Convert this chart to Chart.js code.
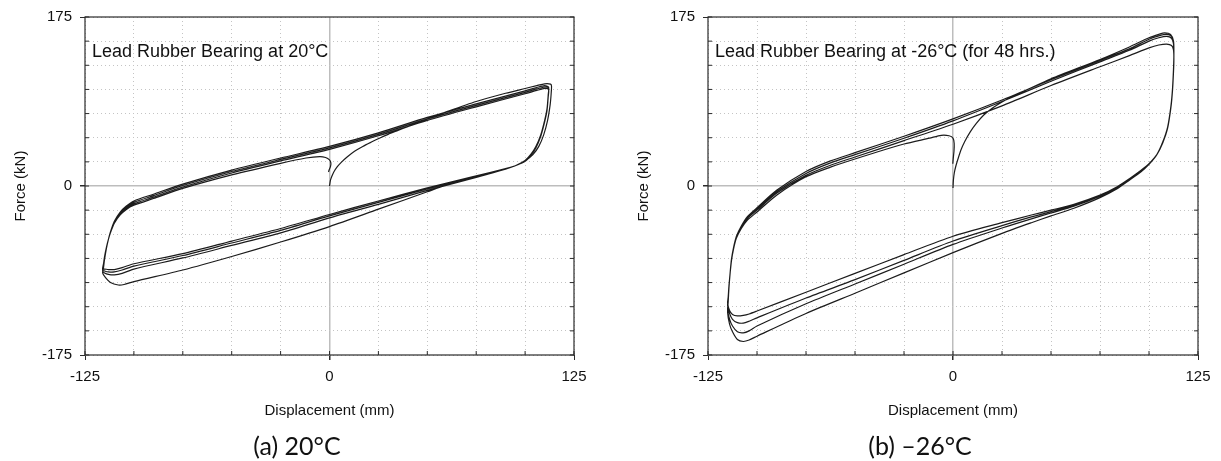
<!DOCTYPE html>
<html>
<head>
<meta charset="utf-8">
<script src="https://cdn.jsdelivr.net/npm/chart.js@4.4.1/dist/chart.umd.min.js"></script>
<style>
  html, body { margin: 0; padding: 0; background: #fff; }
  #wrap { position: relative; width: 1221px; height: 461px; }
  .box { position: absolute; top: 0; height: 461px; }
  #boxA { left: 0; width: 610px; }
  #boxB { left: 610px; width: 611px; }
</style>
</head>
<body>
<div id="wrap">
  <div class="box" id="boxA"><canvas id="chartA"></canvas></div>
  <div class="box" id="boxB"><canvas id="chartB"></canvas></div>
</div>
<script>
// tick labels shown on the axes
var xTickLabels = [-125, 0, 125];
var yTickLabels = [-175, 0, 175];

// ---- (a) 20°C : displacement (mm) / force (kN), read off the loops ----
// first loading from rest up to the first peak
var a_init_disp  = [0, 0.5, 1.2, 2.2, 4, 6, 9, 12.8, 17, 21.4, 25.5, 30, 35, 40, 45, 50, 60, 75, 90, 100, 106, 110, 113, 113.5];
var a_init_force = [0, 6, 10, 14.5, 20, 24.5, 30, 36, 41, 45.5, 49.5, 53.5, 57.5, 61.5, 65.5, 69.5, 77, 87.5, 96, 101, 104, 105.8, 105.5, 103.5];
// first unloading (lowest lower branch)
var a_lo1_disp  = [113.5, 113.3, 112.8, 111.5, 109.5, 107, 104, 100, 95, 90, 75, 60, 50, 25, 0, -25, -50, -75, -100, -105, -108, -112, -114.5, -116];
var a_lo1_force = [103.5, 95, 84, 68, 53, 41, 32.5, 26, 21, 18, 9.5, 1, -6, -24, -42, -58, -73, -87, -99, -102, -102.5, -100, -95, -90];
// later cycles, upper branches (moving right)
var a_up_disp = [-116, -115.5, -115, -114, -113, -112, -110, -107, -104, -100, -90, -75, -50, -25, 0, 25, 50, 75, 100, 106, 110, 112];
var a_up2 = [-90, -84, -76, -64, -55, -47.5, -36.5, -27, -21, -15.5, -8.5, 2, 16.5, 29, 41, 55, 71, 85, 98.5, 102, 104, 102.5];
var a_up3 = [-88, -82, -75, -64, -55, -48, -37, -28, -22, -17, -10, 0.5, 15, 27.5, 39.5, 53.5, 69.5, 83.5, 97, 100.5, 102.5, 101.5];
var a_up4 = [-87, -81, -74, -63.5, -55, -48.5, -38, -29.5, -23.5, -18.5, -11.5, -1, 13.5, 26, 38, 52, 68, 82, 95.5, 99, 101, 100];
// later cycles, lower branches (moving left)
var a_lo_disp = [112, 111.8, 111.2, 110, 108, 105.5, 103, 100, 95, 90, 75, 50, 25, 0, -25, -50, -75, -100, -106, -110, -113, -115, -116];
var a_lo2 = [102.5, 94, 80, 68, 53, 41, 33, 26.5, 21, 17.5, 9, -4.5, -19, -33, -48.5, -61.5, -74.5, -86, -90.5, -92, -91.5, -90, -88];
var a_lo3 = [101.5, 93, 79, 67, 52, 40, 32.5, 26, 21, 18, 10, -3, -17, -31, -46, -59, -72, -83, -87, -89, -89, -88, -87];
var a_lo4 = [100, 92, 78, 66.5, 51.5, 39.5, 32, 25.5, 21, 18, 10.5, -2, -15.5, -29.5, -44, -57, -70, -80.5, -84.5, -86.5, -86.5, -86, -86];
// last reload back to zero displacement
var a_end_disp  = [-116, -115.5, -115, -114, -113, -112, -110, -107, -104, -100, -90, -75, -50, -25, -12, -5, -2, 0, 0.7, 0.5, -0.2, -0.5];
var a_end_force = [-86, -80, -73, -63, -55, -48.5, -38.5, -30, -24.5, -20, -13, -2.5, 11.5, 23.5, 29, 30.5, 29.5, 27, 24, 20, 16.5, 14.5];

// ---- (b) -26°C ----
var b_init_disp  = [0, 0.2, 0.7, 1.5, 2.7, 4, 6, 8.8, 12, 15.7, 20, 25, 30, 36, 50, 75, 90, 100, 105, 108, 111, 112.5];
var b_init_force = [-2, 6, 14, 21, 29, 37, 46, 56, 65, 73.5, 80.5, 87, 92.5, 98, 111, 131, 144, 153.5, 157, 158.5, 157, 150];
var b_lo_disp = [112.5, 112.7, 112.5, 112, 111.2, 109.5, 107, 104, 100, 95.8, 90, 84, 75, 61.7, 50, 40, 25, 0, -25, -50, -75, -100, -104, -107, -110, -112.5, -114, -115];
var b_lo1 = [150, 137, 121, 101, 83, 61, 45.5, 32.5, 22.5, 14.5, 6, -2.5, -12, -23, -31, -38, -49, -69, -90, -111, -132, -155.5, -159.5, -161, -159, -151, -143, -131];
var b_lo2 = [149, 136, 120, 100.5, 82.5, 60.5, 45, 32.5, 23, 15, 6.5, -1.5, -10.5, -21, -28, -34, -43.5, -60.5, -81, -101.5, -122, -145, -150, -152, -151, -145, -138, -128];
var b_lo3 = [147, 134.5, 119.5, 100, 82, 60, 45, 32.5, 23, 15.5, 7, -1, -10, -20, -26.5, -32, -41, -57, -77, -97, -116, -136.5, -140, -142, -141.5, -138, -132, -124];
var b_lo4 = [141, 131, 118, 99, 81.5, 60, 44.5, 32.5, 23, 16, 7.5, -0.5, -9.5, -19, -25, -30, -38, -52, -71, -90.5, -110, -129.5, -132.5, -134, -134.5, -133, -129, -121];
var b_up_disp = [-115, -114.7, -114.3, -113.7, -113, -112, -110.5, -108, -105, -100, -90, -75, -62.5, -50, -25, 0, 25, 50, 75, 90, 100, 105, 109, 111.5, 112.5];
var b_up2 = [-131, -120, -105, -89.5, -75.5, -64, -52, -41.5, -32, -22.5, -4.5, 15, 26, 34.5, 51.5, 69.5, 89, 110, 130, 142, 152, 155.5, 157, 155, 149];
var b_up3 = [-128, -119, -105, -90, -76, -64.5, -52.5, -42, -33, -23.5, -6, 13, 24, 32.5, 49.5, 67.5, 87.5, 108.5, 128.5, 140.5, 150, 153.5, 155, 153, 147];
var b_up4 = [-124, -117, -104, -90, -76.5, -65, -53, -43, -34, -25, -7.5, 11, 21.5, 30, 47, 64, 83, 104, 123.5, 135, 143, 146, 147, 145.5, 141];
var b_end_disp  = [-115, -114.7, -114.3, -113.7, -113, -112, -110.5, -108, -105, -100, -90, -75, -62.5, -50, -25, -12, -6, -2, 0, 0.6, 0.5, 0.1, -0.1];
var b_end_force = [-121, -115, -103, -90, -77, -65.5, -54, -44, -35.5, -27, -9.5, 9.5, 19.5, 28, 43.5, 49.5, 52.5, 52, 49.5, 44, 36, 28, 23];

// join the branches in test order into one continuous path
function buildPath(segments) {
  var pts = [];
  segments.forEach(function (seg, k) {
    seg[0].forEach(function (d, i) {
      if (k > 0 && i === 0) return; // shared reversal point
      pts.push({ x: d, y: seg[1][i] });
    });
  });
  return pts;
}

var pathA = buildPath([
  [a_init_disp, a_init_force], [a_lo1_disp, a_lo1_force],
  [a_up_disp, a_up2], [a_lo_disp, a_lo2],
  [a_up_disp, a_up3], [a_lo_disp, a_lo3],
  [a_up_disp, a_up4], [a_lo_disp, a_lo4],
  [a_end_disp, a_end_force]
]);
var pathB = buildPath([
  [b_init_disp, b_init_force], [b_lo_disp, b_lo1],
  [b_up_disp, b_up2], [b_lo_disp, b_lo2],
  [b_up_disp, b_up3], [b_lo_disp, b_lo3],
  [b_up_disp, b_up4], [b_lo_disp, b_lo4],
  [b_end_disp, b_end_force]
]);

Chart.defaults.font.family = '"Liberation Sans", Arial, sans-serif';
Chart.defaults.color = '#111';

// frame, inner ticks and the texts around each plot
var frame = {
  id: 'frame',
  afterDraw: function (chart, args, opts) {
    var ctx = chart.ctx, a = chart.chartArea;
    var xs = chart.scales.x, ys = chart.scales.y;
    ctx.save();
    ctx.strokeStyle = '#2b2b2b';
    ctx.lineWidth = 1.2;
    ctx.strokeRect(a.left, a.top, a.right - a.left, a.bottom - a.top);
    ctx.lineWidth = 1;
    ctx.beginPath();
    xs.ticks.forEach(function (t) {
      var px = xs.getPixelForValue(t.value);
      ctx.moveTo(px, a.bottom); ctx.lineTo(px, a.bottom - 4);
    });
    ys.ticks.forEach(function (t) {
      var py = ys.getPixelForValue(t.value);
      ctx.moveTo(a.left, py); ctx.lineTo(a.left + 4, py);
      ctx.moveTo(a.right, py); ctx.lineTo(a.right - 4, py);
    });
    ctx.stroke();

    ctx.fillStyle = '#111';
    ctx.textAlign = 'left';
    ctx.textBaseline = 'alphabetic';
    ctx.font = '18px "Liberation Sans", Arial, sans-serif';
    ctx.fillText(opts.note, a.left + 7, 57);

    ctx.textAlign = 'center';
    ctx.font = '15px "Liberation Sans", Arial, sans-serif';
    ctx.fillText('Displacement (mm)', (a.left + a.right) / 2, 415);
    ctx.save();
    ctx.translate(a.left - 60, (a.top + a.bottom) / 2);
    ctx.rotate(-Math.PI / 2);
    ctx.fillText('Force (kN)', 0, 0);
    ctx.restore();

    ctx.font = '25px Lato, "Open Sans", sans-serif';
    ctx.fillText(opts.caption, opts.captionX, 455);
    ctx.restore();
  }
};

function axisGrid(labels) {
  return {
    color: function (c) { return c.tick && c.tick.value === 0 ? '#bdbdbd' : '#c4c4c4'; },
    lineWidth: function (c) { return c.tick && c.tick.value === 0 ? 1.5 : 1; },
    tickLength: 5,
    tickColor: function (c) { return c.tick && labels.indexOf(c.tick.value) >= 0 ? '#2b2b2b' : 'rgba(0,0,0,0)'; }
  };
}
function axisBorder() {
  return {
    display: false,
    dash: function (c) { return c.tick && c.tick.value === 0 ? [] : [1, 3]; }
  };
}

function makeChart(id, path, yWidth, padRight, opts) {
  return new Chart(document.getElementById(id), {
    type: 'scatter',
    data: {
      datasets: [{
        data: path,
        showLine: true,
        borderColor: '#1c1c1c',
        borderWidth: 1.2,
        pointRadius: 0,
        tension: 0.25,
        fill: false
      }]
    },
    options: {
      responsive: true,
      maintainAspectRatio: false,
      animation: false,
      events: [],
      layout: { padding: { top: 13, right: padRight, left: 0, bottom: 0 } },
      plugins: { legend: { display: false }, tooltip: { enabled: false }, frame: opts },
      scales: {
        x: {
          type: 'linear', min: -125, max: 125,
          ticks: {
            stepSize: 25, autoSkip: false, maxRotation: 0, padding: 8,
            font: { size: 15 }, color: '#111',
            callback: function (v) { return xTickLabels.indexOf(v) >= 0 ? String(v) : ''; }
          },
          grid: axisGrid(xTickLabels),
          border: axisBorder(),
          afterFit: function (s) { s.height = 106; }
        },
        y: {
          type: 'linear', min: -175, max: 175,
          ticks: {
            stepSize: 25, autoSkip: false, padding: 8,
            font: { size: 15 }, color: '#111',
            callback: function (v) { return yTickLabels.indexOf(v) >= 0 ? String(v) : ''; }
          },
          grid: axisGrid(yTickLabels),
          border: axisBorder(),
          afterFit: function (s) { s.width = yWidth; }
        }
      }
    },
    plugins: [frame]
  });
}

makeChart('chartA', pathA, 85, 36, { note: 'Lead Rubber Bearing at 20\u00b0C', caption: '(a) 20\u00b0C', captionX: 297 });
makeChart('chartB', pathB, 98, 23, { note: 'Lead Rubber Bearing at -26\u00b0C (for 48 hrs.)', caption: '(b) \u201326\u00b0C', captionX: 920 - 610 });
</script>
</body>
</html>
